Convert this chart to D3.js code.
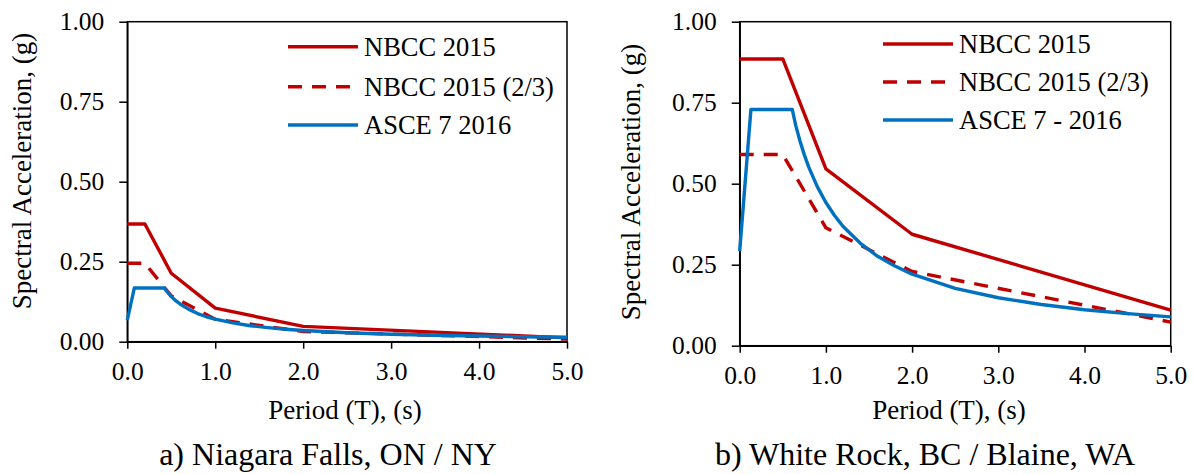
<!DOCTYPE html>
<html>
<head>
<meta charset="utf-8">
<script src="https://cdn.jsdelivr.net/npm/d3@7"></script>
<style>
  body { margin: 0; background: #fff; }
  svg text { font-family: "Liberation Serif", "Times New Roman", serif !important; }
</style>
</head>
<body>
<div id="chart-container"></div>
<script>
// ---- data ----
var xTicks = [0, 1, 2, 3, 4, 5];
var yTicks = [0, 0.25, 0.5, 0.75, 1.0];

// a) Niagara Falls, ON / NY
var periodsNbccA = [0, 0.2, 0.5, 1.0, 2.0, 5.0];
var nbccA = [0.368, 0.368, 0.214, 0.105, 0.048, 0.012];
var nbcc23A = [0.245, 0.245, 0.143, 0.070, 0.032, 0.008];
var periodsAsceA = [0, 0.08, 0.42, 0.45, 0.5, 0.55, 0.6, 0.7, 0.8, 0.9, 1.0, 1.2, 1.4, 1.6, 1.8, 2.0, 2.5, 3.0, 3.5, 4.0, 4.5, 5.0];
var asceA = [0.067, 0.168, 0.168, 0.157, 0.141, 0.128, 0.118, 0.101, 0.088, 0.078, 0.0705, 0.059, 0.050, 0.044, 0.039, 0.035, 0.028, 0.0235, 0.020, 0.0176, 0.0157, 0.0141];

// b) White Rock, BC / Blaine, WA
var periodsNbccB = [0, 0.5, 1.0, 2.0, 5.0];
var nbccB = [0.885, 0.885, 0.546, 0.344, 0.110];
var nbcc23B = [0.590, 0.590, 0.364, 0.229, 0.073];
var periodsAsceB = [0, 0.13, 0.61, 0.65, 0.7, 0.75, 0.8, 0.9, 1.0, 1.1, 1.2, 1.4, 1.6, 1.8, 2.0, 2.5, 3.0, 3.5, 4.0, 4.5, 5.0];
var asceB = [0.292, 0.729, 0.729, 0.680, 0.631, 0.589, 0.552, 0.491, 0.442, 0.402, 0.368, 0.316, 0.276, 0.246, 0.221, 0.177, 0.148, 0.127, 0.111, 0.099, 0.089];

var legendA = ["NBCC 2015", "NBCC 2015 (2/3)", "ASCE 7 2016"];
var legendB = ["NBCC 2015", "NBCC 2015 (2/3)", "ASCE 7 - 2016"];

var red = "#C00000",
    blue = "#0070C0",
    fontName = "Liberation Serif, Times New Roman, serif";

var width = 1193,
    height = 474;

var svg = d3.select("#chart-container").append("svg")
    .attr("width", width)
    .attr("height", height);

svg.append("rect").attr("width", width).attr("height", height).attr("fill", "#fff");

function pairs(xs, ys) {
    return xs.map(function (x, i) { return [x, ys[i]]; });
}

function label(sel, size) {
    return sel.attr("font-family", fontName).attr("font-size", size).attr("fill", "#000");
}

function drawChart(o) {
    var g = svg.append("g");

    var xScale = d3.scaleLinear().domain([0, 5]).range([o.left, o.right]);
    var yScale = d3.scaleLinear().domain([0, 1]).range([o.bottom, o.top]);

    // frame
    g.append("rect")
        .attr("x", o.left).attr("y", o.top)
        .attr("width", o.right - o.left).attr("height", o.bottom - o.top)
        .attr("fill", "none").attr("stroke", "#000").attr("stroke-width", 1.5);

    var yAxis = d3.axisLeft(yScale)
        .tickValues(yTicks)
        .tickFormat(d3.format(".2f"))
        .tickSize(8).tickSizeOuter(0).tickPadding(15);

    var xAxis = d3.axisBottom(xScale)
        .tickValues(xTicks)
        .tickFormat(d3.format(".1f"))
        .tickSize(7).tickSizeOuter(0).tickPadding(13);

    var gY = g.append("g").attr("transform", "translate(" + o.left + ",0)").call(yAxis);
    var gX = g.append("g").attr("transform", "translate(0," + o.bottom + ")").call(xAxis);

    [gX, gY].forEach(function (ax) {
        ax.attr("font-family", fontName).attr("font-size", 25.5);
        ax.select(".domain").attr("stroke-width", 1.5);
        ax.selectAll(".tick line").attr("stroke-width", 1.5);
        label(ax.selectAll(".tick text"), 25.5);
    });

    var line = d3.line()
        .x(function (d) { return xScale(d[0]); })
        .y(function (d) { return yScale(d[1]); });

    var series = [
        { pts: pairs(o.periodsNbcc, o.nbcc), color: red, dash: null },
        { pts: pairs(o.periodsNbcc, o.nbcc23), color: red, dash: "14,10" },
        { pts: pairs(o.periodsAsce, o.asce), color: blue, dash: null }
    ];

    series.forEach(function (s) {
        g.append("path")
            .datum(s.pts)
            .attr("d", line)
            .attr("fill", "none")
            .attr("stroke", s.color)
            .attr("stroke-width", 3.4)
            .attr("stroke-linejoin", "round")
            .attr("stroke-dasharray", s.dash);
    });

    // legend
    var leg = g.append("g");
    series.forEach(function (s, i) {
        var ly = o.legendY[i];
        leg.append("line")
            .attr("x1", o.legendX).attr("x2", o.legendX + 70)
            .attr("y1", ly).attr("y2", ly)
            .attr("stroke", s.color)
            .attr("stroke-width", 3.4)
            .attr("stroke-dasharray", s.dash);
        label(leg.append("text"), 26.5)
            .attr("x", o.legendX + 76)
            .attr("y", ly)
            .attr("dy", "0.35em")
            .text(o.legend[i]);
    });

    // axis titles
    label(g.append("text"), 27)
        .attr("x", o.xTitleX).attr("y", 419)
        .attr("text-anchor", "middle")
        .text("Period (T), (s)");

    label(g.append("text"), 27)
        .attr("transform", "translate(" + o.yTitleX + "," + o.yTitleY + ") rotate(-90)")
        .attr("text-anchor", "middle")
        .text("Spectral Acceleration, (g)");

    label(g.append("text"), 32)
        .attr("x", o.subX).attr("y", 465)
        .attr("text-anchor", "middle")
        .text(o.subtitle);
}

drawChart({
    left: 127.3, right: 567, top: 21.7, bottom: 341.7,
    periodsNbcc: periodsNbccA, nbcc: nbccA, nbcc23: nbcc23A,
    periodsAsce: periodsAsceA, asce: asceA,
    legend: legendA, legendX: 288, legendY: [46.7, 86.7, 125],
    xTitleX: 345, yTitleX: 31, yTitleY: 171,
    subX: 328, subtitle: "a) Niagara Falls, ON / NY"
});

drawChart({
    left: 739.7, right: 1170.7, top: 21.7, bottom: 345.7,
    periodsNbcc: periodsNbccB, nbcc: nbccB, nbcc23: nbcc23B,
    periodsAsce: periodsAsceB, asce: asceB,
    legend: legendB, legendX: 883, legendY: [44, 82, 120],
    xTitleX: 949, yTitleX: 640, yTitleY: 182,
    subX: 925, subtitle: "b) White Rock, BC / Blaine, WA"
});
</script>
</body>
</html>
